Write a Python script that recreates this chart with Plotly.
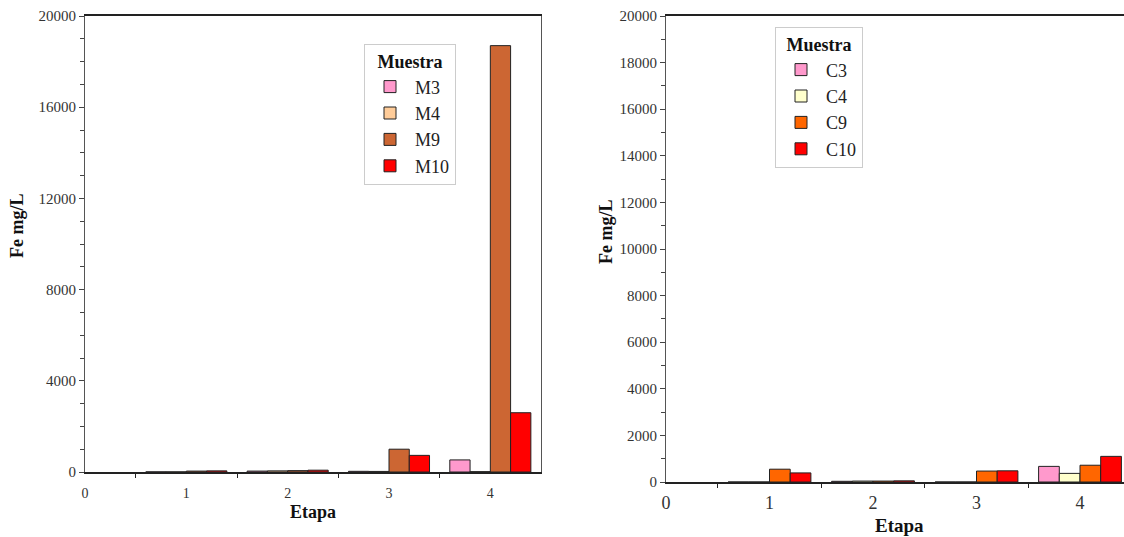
import plotly.graph_objects as go

# ---------------- data ----------------
stages = [1, 2, 3, 4]
x_tick_labels = ["0", "1", "2", "3", "4"]

m_names = ["M3", "M4", "M9", "M10"]
M3 = [5, 40, 30, 530]
M4 = [5, 50, 25, 15]
M9 = [40, 60, 1000, 18700]
M10 = [50, 80, 730, 2600]
m_colors = ["#FF99CC", "#FFCC99", "#CC6633", "#FF0000"]

c_names = ["C3", "C4", "C9", "C10"]
C3 = [0, 30, 0, 670]
C4 = [0, 40, 0, 370]
C9 = [550, 40, 470, 720]
C10 = [390, 50, 480, 1100]
c_colors = ["#FF99CC", "#FFFFCC", "#FF6600", "#FF0000"]

left_y_ticks = [0, 4000, 8000, 12000, 16000, 20000]
right_y_ticks = [0, 2000, 4000, 6000, 8000, 10000, 12000, 14000, 16000, 18000, 20000]

W, H = 1124, 537
FONT = "Liberation Serif, Times New Roman, serif"

fig = go.Figure()
for name, vals, col in zip(m_names, [M3, M4, M9, M10], m_colors):
    fig.add_trace(go.Bar(x=stages, y=vals, name=name, xaxis="x", yaxis="y",
                         legend="legend",
                         marker=dict(color=col, line=dict(color="#222", width=1))))
for name, vals, col in zip(c_names, [C3, C4, C9, C10], c_colors):
    fig.add_trace(go.Bar(x=stages, y=vals, name=name, xaxis="x2", yaxis="y2",
                         legend="legend2",
                         marker=dict(color=col, line=dict(color="#222", width=1))))

def xax(domain, anchor, rng, fsize, tlen):
    return dict(domain=domain, anchor=anchor, range=rng, showgrid=False, zeroline=False,
                tickmode="array", tickvals=[0, 1, 2, 3, 4], ticktext=x_tick_labels,
                ticks="outside", ticklen=tlen, tickcolor="rgba(0,0,0,0)",
                minor=dict(tickmode="array", tickvals=[0.5, 1.5, 2.5, 3.5], ticks="outside",
                           ticklen=4, tickcolor="#222", tickwidth=1),
                showline=True, linecolor="#222", linewidth=1.5, mirror=True,
                tickfont=dict(family=FONT, size=fsize, color="#333"), automargin=False)

def yax(domain, anchor, ticks, mirror):
    return dict(domain=domain, anchor=anchor, range=[0, 20000], showgrid=False, zeroline=False,
                tickmode="array", tickvals=ticks, ticktext=[str(t) for t in ticks],
                ticks="outside", ticklen=5, tickcolor="#444",
                minor=dict(dtick=1000, ticks="outside", ticklen=4, tickcolor="#444"),
                showline=True, linecolor="#555", linewidth=1, mirror=mirror,
                tickfont=dict(family=FONT, size=15, color="#333"), automargin=False)

legend_common = dict(bgcolor="white", bordercolor="#cccccc", borderwidth=1,
                     font=dict(family=FONT, size=18, color="#222"),
                     xanchor="left", yanchor="top", traceorder="normal", itemwidth=40,
                     title=dict(text="<b>Muestra</b>", side="top center",
                                font=dict(family=FONT, size=18, color="#111")))

def label(text, xpx, ypx, size, angle=0):
    return dict(text=text, x=xpx / W, y=1 - ypx / H, xref="paper", yref="paper",
                xanchor="center", yanchor="middle", showarrow=False, textangle=angle,
                font=dict(family=FONT, size=size, color="#111"))

fig.update_layout(
    width=W, height=H,
    margin=dict(l=0, r=0, t=0, b=0),
    paper_bgcolor="white", plot_bgcolor="white",
    barmode="group", bargap=0.2, bargroupgap=0,
    xaxis=xax([85 / W, 541 / W], "y", [0, 4.5], 14, 7),
    yaxis=yax([65 / H, 521 / H], "x", left_y_ticks, True),
    xaxis2=xax([666 / W, 1.0], "y2", [0, (W - 666) / 103.5], 18, 4),
    yaxis2=yax([55 / H, 521 / H], "x2", right_y_ticks, False),
    legend=dict(x=364 / W, y=1 - 44 / H, **legend_common),
    legend2=dict(x=775 / W, y=1 - 27 / H, **legend_common),
    showlegend=True,
    annotations=[
        label("<b>Etapa</b>", 313, 512, 18),
        label("<b>Fe mg/L</b>", 17, 226, 18, -90),
        label("<b>Etapa</b>", 899, 525, 19),
        label("<b>Fe mg/L</b>", 606, 232, 18, -90),
    ],
)

fig.write_html("out.html")
